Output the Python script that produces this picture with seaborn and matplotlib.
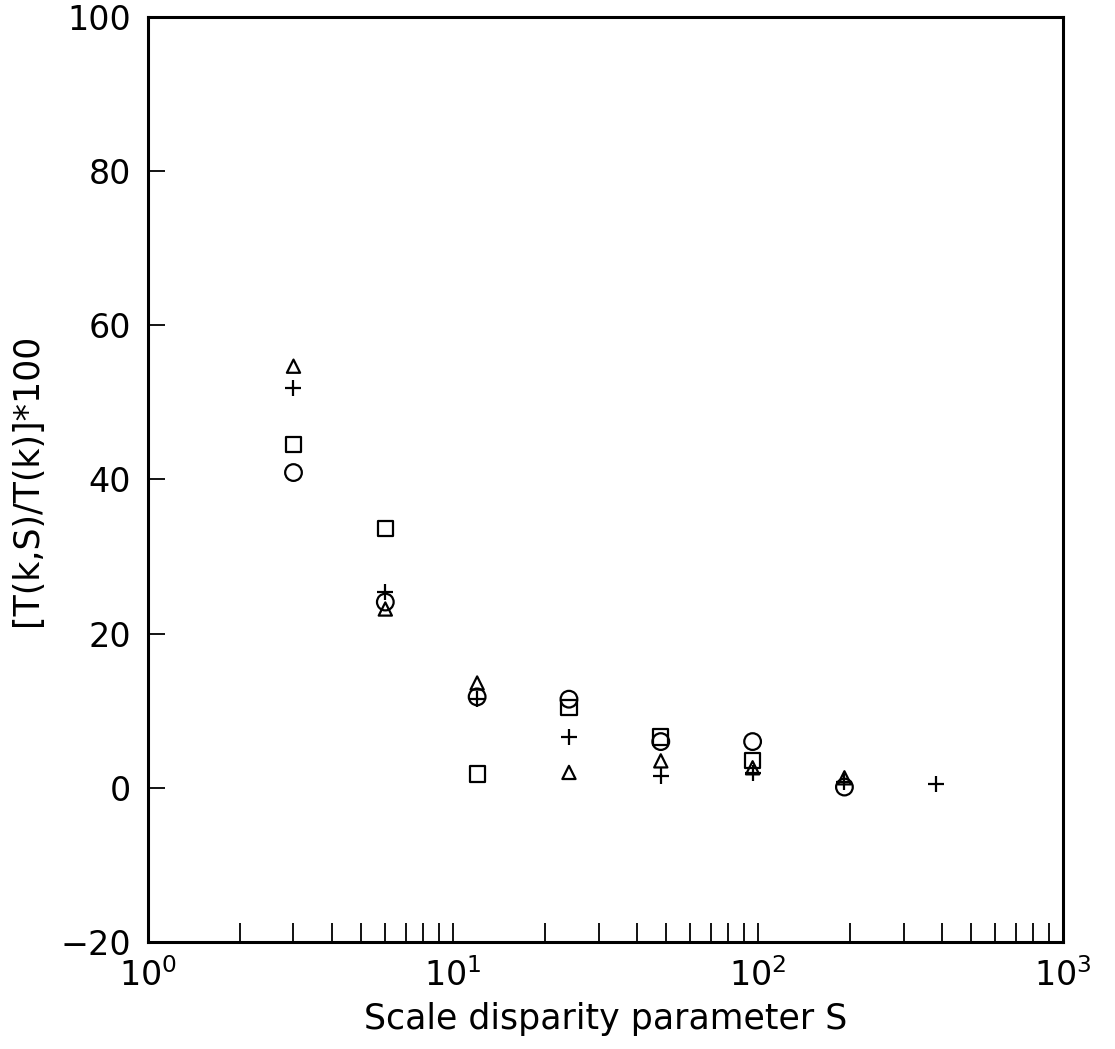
import numpy as np
import pandas as pd
import matplotlib
matplotlib.use("Agg")
import matplotlib.pyplot as plt
import seaborn as sns
from matplotlib.ticker import LogLocator, FixedLocator, NullFormatter

# ---- data ----
S_tri = [3, 6, 12, 24, 48, 96, 192]
v_tri = [54.7, 23.2, 13.6, 2.0, 3.5, 2.6, 1.3]

S_plus = [3, 6, 12, 24, 48, 96, 192, 384]
v_plus = [51.9, 25.4, 11.5, 6.6, 1.6, 1.9, 0.8, 0.5]

S_sq = [3, 6, 12, 24, 48, 96]
v_sq = [44.5, 33.6, 1.8, 10.4, 6.6, 3.5]

S_circ = [3, 6, 12, 24, 48, 96, 192]
v_circ = [40.9, 24.1, 11.8, 11.5, 6.0, 6.0, 0.1]

xlabel = "Scale disparity parameter S"
ylabel = "[T(k,S)/T(k)]*100"
yticks = [-20, 0, 20, 40, 60, 80, 100]
xticks = [1, 10, 100, 1000]
xticklabels = [r"$10^{0}$", r"$10^{1}$", r"$10^{2}$", r"$10^{3}$"]

sns.set_style("ticks")
plt.rcParams["font.family"] = ["DejaVu Sans"]
plt.rcParams["mathtext.default"] = "regular"
for k in ["text.color", "axes.labelcolor", "xtick.color", "ytick.color",
          "axes.edgecolor"]:
    plt.rcParams[k] = "black"

fig = plt.figure(figsize=(11.15, 10.49), dpi=100)
ax = fig.add_axes([0.1327, 0.102, 0.9534 - 0.1327, 0.9838 - 0.102])

lw = 1.6
sns.scatterplot(x=S_sq, y=v_sq, marker="s", s=11.0**2, facecolor="none",
                edgecolor="black", linewidth=lw, ax=ax, zorder=3)
sns.scatterplot(x=S_circ, y=v_circ, marker="o", s=12.0**2, facecolor="none",
                edgecolor="black", linewidth=lw, ax=ax, zorder=3)
sns.scatterplot(x=S_tri, y=v_tri, marker="^", s=9.5**2, facecolor="none",
                edgecolor="black", linewidth=lw, ax=ax, zorder=3)
sns.scatterplot(x=S_plus, y=v_plus, marker="+", s=11.0**2, color="black",
                linewidth=lw, ax=ax, zorder=4)

ax.set_xscale("log")
ax.set_xlim(1, 1000)
ax.set_ylim(-20, 100)

ax.xaxis.set_major_locator(FixedLocator(xticks))
ax.set_xticklabels(xticklabels)
ax.xaxis.set_minor_locator(LogLocator(base=10, subs=np.arange(2, 10)))
ax.xaxis.set_minor_formatter(NullFormatter())
ax.set_yticks(yticks)
ax.set_yticklabels([str(t) if t >= 0 else "\u221220" for t in yticks])

ax.tick_params(axis="x", which="both", direction="in", length=14, width=1.3,
               top=False, bottom=True, labelsize=24, pad=12, colors="black")
ax.tick_params(axis="y", which="major", direction="in", length=12, width=1.3,
               left=True, right=False, labelsize=24, pad=12, colors="black")
ax.tick_params(axis="y", which="minor", left=False, right=False)

for sp in ax.spines.values():
    sp.set_linewidth(2.2)
    sp.set_color("black")

ax.set_xlabel(xlabel, fontsize=25, labelpad=6, color="black")
ax.set_ylabel(ylabel, fontsize=25, labelpad=12, color="black")

fig.savefig("out.png", dpi=100)
